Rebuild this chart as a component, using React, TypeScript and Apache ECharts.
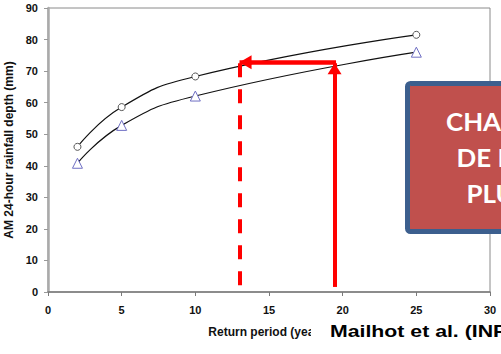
import React, { useEffect, useRef } from "react";
import * as echarts from "echarts";

// Return period (years) of the plotted points
const returnPeriods = [2, 5, 10, 25];
// Upper curve (circles), AM 24-hour rainfall depth (mm)
const upperDepths = [46.0, 58.6, 68.3, 81.5];
// Lower curve (triangles)
const lowerDepths = [40.8, 52.8, 62.1, 76.0];

// Axis settings
const xRange = [0, 30];
const xStep = 5;
const yRange = [0, 90];
const yStep = 10;

// Annotation (red arrows): read a 19.45-year event on the lower curve,
// move across at that depth to the upper curve (~13 years)
const annotPeriodFrom = [19.45];
const annotPeriodTo = [13.0];
const annotDepth = [72.8];
const annotDepthArrowTip = [72.5];
const annotBase = [1.6];

const boxLines = ["CHANGEMENTS", "DE LA", "PLUIE"];
const citation = "Mailhot et al. (INRS)";

export default function App() {
  const ref = useRef<HTMLDivElement>(null);
  useEffect(() => {
    if (!ref.current) return;
    const chart = echarts.init(ref.current, undefined, { renderer: "svg" });
    const font = "'Liberation Sans', Arial, sans-serif";
    const up = returnPeriods.map((x, i) => [x, upperDepths[i]]);
    const lo = returnPeriods.map((x, i) => [x, lowerDepths[i]]);
    const red = "#ff0000";
    chart.setOption({
      animation: false,
      backgroundColor: "#ffffff",
      grid: {
        left: 48,
        right: 11,
        top: 8,
        bottom: 62,
        outerBoundsMode: "none",
        containLabel: false,
        show: true,
        borderColor: "#8a8a8a",
        borderWidth: 1,
        backgroundColor: "transparent",
      },
      xAxis: {
        type: "value",
        min: xRange[0],
        max: xRange[1],
        interval: xStep,
        name: "Return period (years)",
        nameLocation: "middle",
        nameGap: 34,
        nameTextStyle: { fontFamily: font, fontWeight: "bold", fontSize: 12, color: "#111" },
        axisLine: { show: true, lineStyle: { color: "#7a7a7a", width: 1.5 } },
        axisTick: { show: true, length: 4, lineStyle: { color: "#7a7a7a" } },
        axisLabel: { fontFamily: font, fontWeight: "bold", fontSize: 11, color: "#111", margin: 12 },
        splitLine: { show: false },
      },
      yAxis: {
        type: "value",
        min: yRange[0],
        max: yRange[1],
        interval: yStep,
        name: "AM 24-hour rainfall depth (mm)",
        nameLocation: "middle",
        nameGap: 30,
        nameTextStyle: { fontFamily: font, fontWeight: "bold", fontSize: 12, color: "#111" },
        axisLine: { show: true, lineStyle: { color: "#aaaaaa", width: 2.5 } },
        axisTick: { show: true, length: 4, lineStyle: { color: "#999" } },
        axisLabel: { fontFamily: font, fontWeight: "bold", fontSize: 11, color: "#111", margin: 10 },
        splitLine: { show: false },
      },
      series: [
        {
          type: "line",
          data: up,
          smooth: 0.5,
          symbol: "circle",
          symbolSize: 7,
          showSymbol: true,
          lineStyle: { color: "#111", width: 1.2 },
          itemStyle: { color: "#ffffff", borderColor: "#555", borderWidth: 1 },
          z: 3,
        },
        {
          type: "line",
          data: lo,
          smooth: 0.5,
          symbol: "triangle",
          symbolSize: 10,
          showSymbol: true,
          lineStyle: { color: "#111", width: 1.2 },
          itemStyle: { color: "#ffffff", borderColor: "#6f6fc4", borderWidth: 1 },
          z: 3,
        },
        {
          type: "line",
          data: [],
          z: 6,
          markLine: {
            silent: true,
            animation: false,
            label: { show: false },
            symbol: ["none", "none"],
            data: [
              [
                {
                  coord: [annotPeriodFrom[0], annotBase[0]],
                  symbol: "none",
                  lineStyle: { color: red, width: 4, type: "solid" },
                },
                {
                  coord: [annotPeriodFrom[0], annotDepthArrowTip[0]],
                  symbol: "triangle",
                  symbolSize: [14, 11],
                  symbolOffset: [0, 5.5],
                },
              ],
              [
                {
                  coord: [annotPeriodFrom[0] + 0.1, annotDepth[0]],
                  symbol: "none",
                  lineStyle: { color: red, width: 4.5, type: "solid" },
                },
                {
                  coord: [annotPeriodTo[0], annotDepth[0]],
                  symbol: "triangle",
                  symbolSize: [14, 12],
                  symbolOffset: [0, 6],
                },
              ],
              [
                {
                  coord: [annotPeriodTo[0], annotDepth[0] - 0.3],
                  symbol: "none",
                  lineStyle: { color: red, width: 4, type: [14, 12] },
                },
                {
                  coord: [annotPeriodTo[0], 0],
                  symbol: "none",
                },
              ],
            ],
          },
        },
      ],
      graphic: [
        {
          type: "rect",
          z: 100,
          shape: { x: 407.5, y: 83.5, width: 130, height: 148, r: 3 },
          style: { fill: "#c0504d", stroke: "#3c5f8e", lineWidth: 5 },
        },
        ...boxLines.map((t, i) => ({
          type: "text",
          z: 101,
          x: [446, 456.5, 466.5][i],
          y: [121, 157.5, 193.5][i],
          scaleX: 1.08,
          style: {
            text: t,
            fill: "#ffffff",
            font: "bold 24px Lato, 'Open Sans', sans-serif",
            textAlign: "left",
            textVerticalAlign: "middle",
          },
        })),
        {
          type: "rect",
          z: 100,
          shape: { x: 311, y: 320, width: 200, height: 40 },
          style: { fill: "#ffffff" },
        },
        {
          type: "text",
          z: 101,
          x: 330,
          y: 331,
          scaleX: 1.33,
          style: {
            text: citation,
            fill: "#000000",
            font: "bold 16px 'Liberation Sans', Arial, sans-serif",
            textAlign: "left",
            textVerticalAlign: "middle",
          },
        },
      ],
    });
    return () => chart.dispose();
  }, []);
  return (
    <div
      ref={ref}
      style={{ position: "fixed", left: 0, top: 0, width: 501, height: 354, background: "#fff" }}
    />
  );
}
